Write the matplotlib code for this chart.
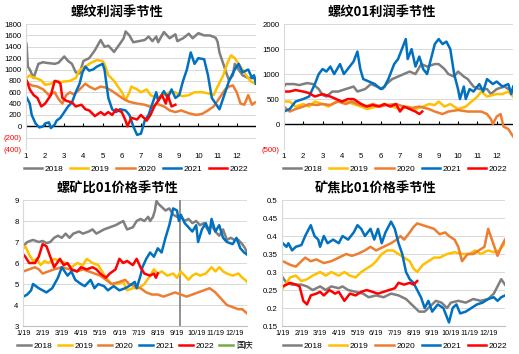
import matplotlib
matplotlib.use('Agg')
import matplotlib.pyplot as plt
from matplotlib.lines import Line2D
from matplotlib.ticker import FuncFormatter

plt.rcParams['font.family'] = ['Liberation Sans', 'Noto Sans CJK SC']

years = ['2018', '2019', '2020', '2021', '2022']
colors = ['#7F7F7F', '#FFC000', '#ED7D31', '#0070C0', '#FF0000']

# ---- panel 1: 螺纹利润季节性 (x = month) ----
p1_x18 = [1.0, 1.03, 1.1, 1.2, 1.4, 1.65, 1.9, 2.0, 2.5, 2.7, 3.0, 3.2, 3.4, 3.6, 3.8, 4.0, 4.3, 4.6, 4.9, 5.1,
          5.3, 5.6, 5.9, 6.1, 6.2, 6.4, 6.6, 6.9, 7.2, 7.4, 7.6, 7.8, 7.9, 8.2, 8.5, 8.8, 8.9, 9.2, 9.5, 9.7,
          10.0, 10.3, 10.6, 10.9, 11.0, 11.1, 11.3, 11.5, 11.6, 11.8, 11.9, 12.1, 12.3, 12.6, 12.95]
p1_y18 = [1480, 1450, 1050, 1000, 850, 1100, 1130, 1120, 1100, 1120, 1230, 1150, 1100, 950, 930, 1150, 1200, 1340, 1520, 1400,
          1420, 1310, 1450, 1550, 1670, 1600, 1480, 1500, 1520, 1580, 1500, 1580, 1480, 1660, 1550, 1620, 1500, 1550, 1630, 1550,
          1640, 1600, 1600, 1560, 1490, 1300, 1100, 900, 810, 900, 1100, 1000, 900, 850, 850]
p1_x19 = [1.0, 1.2, 1.3, 1.5, 1.8, 2.0, 2.3, 2.6, 2.8, 3.3, 3.6, 3.8, 4.1, 4.4, 4.7, 5.0, 5.1, 5.3, 5.6, 5.8,
          6.0, 6.2, 6.4, 6.5, 6.8, 7.0, 7.3, 7.5, 7.8, 8.2, 8.5, 8.8, 9.0, 9.2, 9.5, 9.8, 10.2, 10.5, 10.8, 11.0,
          11.3, 11.5, 11.7, 11.9, 12.1, 12.4, 12.7, 12.95]
p1_y19 = [840, 900, 870, 850, 810, 730, 750, 800, 780, 800, 850, 990, 1050, 1120, 1165, 1150, 1100, 900, 800, 700,
          605, 460, 600, 700, 650, 600, 650, 550, 500, 550, 600, 600, 550, 530, 550, 600, 600, 580, 550, 700,
          900, 1100, 1250, 1200, 1100, 950, 800, 750]
p1_x20 = [1.0, 1.3, 1.6, 1.9, 2.2, 2.5, 2.7, 2.9, 3.1, 3.3, 3.5, 3.8, 4.1, 4.3, 4.6, 4.9, 5.2, 5.5, 5.8, 6.1,
          6.4, 6.8, 7.2, 7.6, 7.8, 8.2, 8.5, 8.8, 9.1, 9.5, 9.9, 10.2, 10.5, 10.8, 11.0, 11.2, 11.4, 11.6, 11.8, 12.0,
          12.2, 12.4, 12.6, 12.8, 12.95]
p1_y20 = [780, 720, 700, 650, 550, 600, 480, 400, 550, 600, 560, 650, 750, 700, 650, 700, 680, 620, 550, 480,
          430, 400, 380, 330, 400, 350, 280, 250, 280, 230, 200, 220, 280, 350, 450, 550, 650, 700, 720, 600,
          400, 380, 550, 380, 420]
p1_x21 = [1.05, 1.2, 1.3, 1.5, 1.7, 1.9, 2.0, 2.2, 2.3, 2.5, 2.6, 2.8, 3.0, 3.2, 3.4, 3.6, 3.8, 3.95, 4.1, 4.3,
          4.5, 4.7, 5.0, 5.1, 5.3, 5.5, 5.7, 5.9, 6.2, 6.4, 6.6, 6.8, 7.0, 7.2, 7.4, 7.6, 7.8, 7.9, 8.2, 8.4,
          8.6, 8.8, 9.0, 9.2, 9.4, 9.6, 9.8, 10.0, 10.3, 10.5, 10.7, 10.9, 11.1, 11.3, 11.6, 11.9, 12.1, 12.3, 12.6, 12.8,
          12.9, 13.0]
p1_y21 = [500, 400, 200, 50, -20, 0, 50, 70, -30, 30, 100, 150, 250, 350, 420, 600, 750, 950, 1050, 980,
          1000, 1050, 1100, 1000, 500, 300, 250, 300, 280, 200, 0, -150, -130, 100, 200, 400, 600, 450, 620, 500,
          650, 500, 550, 800, 1000, 1300, 1100, 1200, 1180, 900, 500, 400, 300, 500, 800, 1000, 1100, 950, 1000, 850,
          900, 750]
p1_x22 = [1.05, 1.2, 1.4, 1.6, 1.8, 2.0, 2.3, 2.5, 2.7, 2.8, 2.9, 3.1, 3.4, 3.6, 3.9, 4.1, 4.3, 4.6, 4.9, 5.1,
          5.3, 5.5, 5.7, 6.0, 6.2, 6.3, 6.5, 6.8, 7.0, 7.3, 7.5, 7.7, 7.9, 8.1, 8.3, 8.4, 8.6, 8.8]
p1_y22 = [800, 650, 550, 500, 350, 400, 550, 800, 780, 750, 500, 450, 420, 350, 380, 300, 280, 180, 250, 200,
          250, 200, 300, 250, 100, 0, 150, 120, 200, 100, 200, 350, 450, 550, 400, 550, 350, 380]

# ---- panel 2: 螺纹01利润季节性 ----
p2_x18 = [1.0, 1.1, 1.5, 1.8, 2.2, 2.5, 2.8, 3.0, 3.2, 3.5, 3.8, 4.2, 4.6, 4.8, 5.2, 5.5, 5.8, 6.1, 6.3, 6.6,
          6.9, 7.2, 7.5, 7.8, 8.1, 8.4, 8.8, 9.0, 9.3, 9.5, 9.8, 10.0, 10.3, 10.5, 10.8, 11.1, 11.5, 11.7, 12.0, 12.4,
          12.6, 12.8]
p2_y18 = [750, 800, 800, 780, 820, 800, 700, 580, 550, 650, 650, 700, 750, 650, 700, 800, 750, 700, 800, 900,
          950, 1000, 1050, 1000, 1200, 1150, 1200, 1200, 1100, 1000, 950, 1050, 950, 900, 750, 700, 700, 600, 700, 750,
          700, 650]
p2_x19 = [1.0, 1.3, 1.6, 2.0, 2.3, 2.6, 3.0, 3.3, 3.7, 4.2, 4.6, 5.0, 5.3, 5.8, 6.2, 6.6, 7.0, 7.4, 7.8, 8.2,
          8.5, 8.8, 9.0, 9.3, 9.6, 10.0, 10.4, 10.7, 11.0, 11.2, 11.5, 12.0, 12.3, 12.6, 12.85]
p2_y19 = [450, 450, 350, 400, 350, 450, 400, 350, 450, 450, 400, 350, 300, 350, 400, 350, 300, 350, 300, 350,
          400, 380, 450, 350, 400, 300, 350, 450, 550, 650, 550, 600, 600, 650, 550]
p2_x20 = [1.0, 1.3, 1.6, 2.0, 2.3, 2.7, 3.0, 3.4, 3.8, 4.2, 4.5, 4.8, 5.2, 5.6, 6.0, 6.3, 6.8, 7.2, 7.6, 8.0,
          8.5, 8.8, 9.2, 9.5, 10.0, 10.5, 10.8, 11.2, 11.5, 11.7, 11.8, 12.0, 12.2, 12.35, 12.6, 12.85]
p2_y20 = [350, 250, 300, 350, 400, 380, 400, 380, 450, 400, 450, 400, 350, 400, 350, 380, 400, 350, 320, 350,
          300, 250, 200, 250, 280, 250, 250, 250, 200, 100, 0, 150, 200, -50, -100, -250]
p2_x21 = [1.0, 1.3, 1.6, 2.0, 2.3, 2.6, 2.8, 3.0, 3.2, 3.4, 3.6, 3.9, 4.1, 4.3, 4.6, 4.8, 4.95, 5.1, 5.4, 5.7,
          6.0, 6.2, 6.4, 6.7, 6.9, 7.1, 7.3, 7.4, 7.6, 7.8, 8.0, 8.2, 8.4, 8.6, 8.8, 9.0, 9.2, 9.4, 9.6, 9.8,
          10.0, 10.1, 10.3, 10.4, 10.6, 10.8, 11.1, 11.3, 11.5, 11.8, 12.0, 12.3, 12.6, 12.75, 12.85]
p2_y21 = [250, 300, 450, 500, 550, 800, 1000, 1100, 1050, 1150, 1000, 1200, 1000, 1100, 1250, 1450, 1100, 900, 850, 800,
          700, 750, 900, 1200, 1300, 1500, 1700, 1300, 1500, 1150, 1350, 1100, 1000, 1300, 1600, 1700, 1600, 1650, 1500, 1000,
          700, 500, 750, 500, 700, 650, 800, 650, 900, 800, 850, 750, 800, 600, 750]
p2_x22 = [1.0, 1.3, 1.6, 2.0, 2.3, 2.6, 3.0, 3.4, 3.7, 4.0, 4.3, 4.6, 4.8, 5.0, 5.3, 5.6, 5.9, 6.2, 6.5, 6.8,
          7.0, 7.2, 7.5, 7.8, 8.0, 8.15]
p2_y22 = [650, 650, 680, 650, 620, 550, 600, 550, 500, 450, 500, 500, 450, 400, 350, 380, 350, 400, 350, 400,
          250, 350, 300, 250, 200, 250]

# ---- panel 3: 螺矿比01价格季节性 (x = label index, 0 = 1/19) ----
p3_x18 = [0, 0.2, 0.5, 0.8, 1.0, 1.2, 1.4, 1.6, 1.8, 2.0, 2.2, 2.4, 2.6, 2.9, 3.1, 3.4, 3.6, 3.8, 4.0, 4.2,
          4.5, 4.8, 5.0, 5.2, 5.4, 5.7, 5.9, 6.1, 6.3, 6.5, 6.6, 6.75, 6.85, 6.93, 7.05, 7.4, 7.6, 7.8, 8.0, 8.2,
          8.4, 8.6, 8.8, 9.0, 9.2, 9.4, 9.6, 9.8, 10.0, 10.2, 10.4, 10.6, 10.8, 11.0, 11.2, 11.4, 11.55, 11.65]
p3_y18 = [6.8, 7.0, 7.1, 7.0, 7.05, 6.95, 7.0, 7.2, 7.3, 7.2, 7.4, 7.2, 7.4, 7.5, 7.4, 7.5, 7.6, 7.4, 7.5, 7.6,
          7.7, 7.8, 7.9, 8.0, 7.6, 7.7, 8.0, 8.1, 8.0, 8.2, 8.0, 8.2, 8.5, 8.95, 8.8, 8.5, 8.6, 8.3, 8.2, 8.2,
          8.0, 8.1, 7.9, 8.0, 7.8, 7.9, 7.6, 7.8, 7.5, 7.3, 7.6, 7.1, 7.2, 7.1, 7.1, 6.9, 6.7, 6.5]
p3_x19 = [0, 0.1, 0.3, 0.5, 0.7, 0.9, 1.1, 1.3, 1.6, 1.9, 2.2, 2.5, 2.8, 3.1, 3.3, 3.6, 3.9, 4.1, 4.3, 4.6,
          4.9, 5.2, 5.4, 5.7, 6.0, 6.3, 6.6, 6.8, 7.0, 7.2, 7.5, 7.8, 8.0, 8.2, 8.4, 8.6, 8.8, 9.0, 9.2, 9.5,
          9.8, 10.0, 10.2, 10.4, 10.6, 10.9, 11.2, 11.4, 11.55, 11.65]
p3_y19 = [6.7, 6.8, 6.4, 6.1, 6.2, 5.9, 6.1, 6.0, 6.2, 6.1, 6.0, 5.8, 6.0, 5.9, 6.2, 6.0, 5.9, 5.6, 5.3, 5.0,
          5.0, 5.1, 4.7, 4.8, 4.8, 5.0, 5.4, 5.7, 5.5, 5.6, 5.4, 5.5, 5.3, 5.6, 5.4, 5.2, 5.4, 5.5, 5.4, 5.5,
          5.8, 5.6, 5.8, 5.6, 5.5, 5.4, 5.5, 5.3, 5.2, 5.1]
p3_x20 = [0, 0.3, 0.6, 0.8, 1.0, 1.3, 1.6, 2.0, 2.4, 2.8, 3.1, 3.4, 3.7, 4.0, 4.3, 4.6, 5.0, 5.3, 5.5, 5.8,
          6.1, 6.4, 6.7, 7.0, 7.3, 7.6, 7.9, 8.2, 8.5, 8.8, 9.1, 9.4, 9.7, 10.0, 10.3, 10.6, 10.9, 11.2, 11.4, 11.65]
p3_y20 = [5.6, 5.7, 5.8, 5.7, 5.5, 5.6, 5.7, 5.8, 5.7, 5.6, 5.7, 5.6, 5.5, 5.4, 5.2, 5.0, 5.1, 5.2, 5.0, 4.9,
          4.8, 4.6, 4.5, 4.5, 4.4, 4.5, 4.6, 4.5, 4.4, 4.5, 4.6, 4.7, 4.8, 4.6, 4.3, 4.0, 3.9, 3.8, 3.8, 3.6]
p3_x21 = [0, 0.2, 0.4, 0.5, 0.8, 1.0, 1.2, 1.5, 1.8, 2.0, 2.3, 2.5, 2.7, 3.0, 3.2, 3.5, 3.7, 3.9, 4.2, 4.4,
          4.7, 5.0, 5.3, 5.5, 5.8, 5.9, 6.1, 6.2, 6.4, 6.6, 6.8, 7.0, 7.2, 7.4, 7.6, 7.8, 8.0, 8.1, 8.2, 8.4,
          8.6, 8.8, 9.0, 9.1, 9.3, 9.5, 9.7, 9.8, 10.0, 10.2, 10.4, 10.6, 10.9, 11.1, 11.3, 11.5, 11.65]
p3_y21 = [4.4, 4.5, 4.7, 5.0, 4.8, 4.7, 4.6, 4.8, 5.3, 5.8, 5.4, 5.6, 5.2, 5.0, 4.9, 5.2, 4.8, 5.0, 4.9, 4.7,
          4.9, 4.7, 4.8, 4.9, 5.1, 4.8, 5.4, 5.8, 6.2, 6.5, 6.3, 6.7, 6.5, 7.2, 7.8, 8.6, 8.5, 8.0, 8.3, 7.9,
          7.7, 7.5, 7.8, 7.0, 7.6, 7.9, 7.4, 8.1, 7.5, 7.8, 7.2, 7.0, 6.9, 7.2, 6.7, 6.5, 6.4]
p3_x22 = [0, 0.1, 0.3, 0.6, 0.8, 1.0, 1.2, 1.4, 1.6, 1.9, 2.1, 2.3, 2.5, 2.8, 3.0, 3.3, 3.6, 3.8, 4.0, 4.3,
          4.5, 4.8, 5.0, 5.2, 5.4, 5.7, 5.9, 6.1, 6.3, 6.6, 6.8, 6.9, 7.0]
p3_y22 = [6.4, 6.3, 6.0, 6.0, 6.3, 6.9, 6.8, 6.3, 5.8, 6.2, 5.9, 6.0, 5.7, 5.6, 5.8, 5.7, 5.8, 5.7, 5.5, 5.3,
          5.5, 5.7, 6.2, 6.0, 6.1, 5.9, 6.2, 5.8, 5.5, 5.4, 5.5, 5.3, 5.5]
guoqing_x = 8.18

# ---- panel 4: 矿焦比01价格季节性 ----
p4_x18 = [0, 0.2, 0.5, 1.0, 1.3, 1.6, 2.0, 2.3, 2.6, 3.0, 3.2, 3.5, 3.9, 4.3, 4.6, 5.0, 5.4, 5.8, 6.2, 6.6,
          6.9, 7.1, 7.3, 7.6, 7.8, 8.0, 8.2, 8.5, 8.8, 9.0, 9.4, 9.8, 10.2, 10.6, 11.0, 11.3, 11.5, 11.7, 11.9]
p4_y18 = [0.285, 0.27, 0.265, 0.265, 0.26, 0.25, 0.26, 0.25, 0.26, 0.255, 0.26, 0.25, 0.245, 0.24, 0.23, 0.235, 0.23, 0.24, 0.235, 0.225,
          0.21, 0.2, 0.19, 0.19, 0.2, 0.21, 0.22, 0.215, 0.2, 0.215, 0.22, 0.215, 0.225, 0.22, 0.225, 0.24, 0.26, 0.28, 0.265]
p4_x19 = [0, 0.2, 0.4, 0.7, 1.0, 1.3, 1.6, 2.0, 2.3, 2.6, 3.0, 3.3, 3.6, 3.9, 4.2, 4.5, 4.8, 5.0, 5.3, 5.6,
          5.9, 6.2, 6.5, 6.8, 7.0, 7.2, 7.5, 7.8, 8.1, 8.4, 8.8, 9.2, 9.6, 10.0, 10.3, 10.6, 11.0, 11.3, 11.6, 11.9]
p4_y19 = [0.255, 0.27, 0.285, 0.29, 0.275, 0.28, 0.29, 0.3, 0.29, 0.3, 0.29, 0.3, 0.29, 0.285, 0.3, 0.31, 0.32, 0.33, 0.35, 0.36,
          0.36, 0.35, 0.34, 0.33, 0.31, 0.3, 0.32, 0.33, 0.34, 0.34, 0.35, 0.355, 0.35, 0.35, 0.36, 0.35, 0.36, 0.355, 0.36, 0.38]
p4_x20 = [0, 0.4, 0.7, 1.0, 1.2, 1.5, 1.8, 2.2, 2.6, 3.0, 3.4, 3.7, 4.0, 4.4, 4.7, 5.0, 5.4, 5.8, 6.1, 6.3,
          6.5, 6.8, 7.0, 7.2, 7.5, 7.8, 8.1, 8.4, 8.7, 8.9, 9.2, 9.4, 9.6, 9.9, 10.2, 10.5, 10.8, 11.0, 11.2, 11.4,
          11.5, 11.7, 11.9]
p4_y20 = [0.33, 0.32, 0.315, 0.33, 0.34, 0.33, 0.335, 0.325, 0.33, 0.34, 0.35, 0.345, 0.35, 0.36, 0.37, 0.36, 0.37, 0.38, 0.39, 0.4,
          0.39, 0.41, 0.425, 0.435, 0.43, 0.425, 0.42, 0.405, 0.41, 0.4, 0.39, 0.37, 0.33, 0.35, 0.35, 0.36, 0.37, 0.42, 0.39, 0.36,
          0.345, 0.37, 0.39]
p4_x21 = [0, 0.2, 0.3, 0.5, 0.7, 1.0, 1.2, 1.5, 1.7, 1.9, 2.0, 2.2, 2.4, 2.7, 3.0, 3.2, 3.5, 3.8, 4.0, 4.2,
          4.4, 4.7, 4.9, 5.1, 5.3, 5.5, 5.7, 5.8, 6.0, 6.2, 6.4, 6.6, 6.8, 7.0, 7.2, 7.4, 7.6, 7.8, 8.0, 8.3,
          8.6, 8.9, 9.1, 9.3, 9.5, 9.8, 10.1, 10.4, 10.7, 11.0, 11.3, 11.5, 11.7, 11.9]
p4_y21 = [0.38, 0.37, 0.38, 0.36, 0.37, 0.375, 0.4, 0.43, 0.4, 0.39, 0.37, 0.4, 0.38, 0.39, 0.38, 0.4, 0.39, 0.41, 0.43, 0.42,
          0.4, 0.42, 0.39, 0.42, 0.38, 0.41, 0.43, 0.44, 0.42, 0.38, 0.35, 0.3, 0.28, 0.27, 0.25, 0.23, 0.2, 0.22, 0.19, 0.21,
          0.2, 0.16, 0.2, 0.21, 0.185, 0.19, 0.2, 0.21, 0.215, 0.225, 0.23, 0.22, 0.23, 0.235]
p4_x22 = [0, 0.2, 0.4, 0.7, 0.9, 1.1, 1.3, 1.5, 1.8, 2.0, 2.2, 2.5, 2.8, 3.0, 3.3, 3.6, 3.9, 4.2, 4.5, 4.8,
          5.1, 5.4, 5.7, 6.0, 6.2, 6.5, 6.8, 7.0, 7.2]
p4_y22 = [0.26, 0.265, 0.27, 0.265, 0.26, 0.22, 0.21, 0.235, 0.24, 0.245, 0.235, 0.25, 0.24, 0.245, 0.22, 0.24, 0.235, 0.245, 0.25, 0.245,
          0.24, 0.245, 0.25, 0.255, 0.27, 0.265, 0.27, 0.265, 0.275]

month_ticks = list(range(1, 13))
month_labels = [str(m) for m in month_ticks]
date_ticks = list(range(12))
date_labels = ['%d/19' % (m + 1) for m in date_ticks]


def money_fmt(v, pos):
    return '(%d)' % abs(v) if v < 0 else '%d' % v


def ratio_fmt(v, pos):
    return '%g' % round(v, 2)


def setup(ax, ylim, yticks, fmt):
    ax.set_ylim(ylim)
    ax.set_yticks(yticks)
    ax.yaxis.set_major_formatter(FuncFormatter(fmt))
    ax.grid(axis='y', color='#D9D9D9', linewidth=0.7)
    ax.set_axisbelow(True)
    for s in ['top', 'right', 'bottom']:
        ax.spines[s].set_visible(False)
    ax.spines['left'].set_color('#D9D9D9')
    ax.tick_params(length=0, labelsize=5.6, pad=3)
    for t, lbl in zip(yticks, ax.get_yticklabels()):
        if t < 0:
            lbl.set_color('#FF0000')


def draw(ax, xs, ys):
    handles = []
    for x, y, c, lab in zip(xs, ys, colors, years):
        h, = ax.plot(x, y, color=c, lw=1.8, label=lab)
        handles.append(h)
    return handles


fig = plt.figure(figsize=(5.19, 3.54), dpi=100)
ax1 = fig.add_axes([0.050, 0.579, 0.443, 0.353])
ax2 = fig.add_axes([0.547, 0.579, 0.441, 0.353])
ax3 = fig.add_axes([0.044, 0.079, 0.432, 0.356])
ax4 = fig.add_axes([0.543, 0.079, 0.430, 0.356])

h1 = draw(ax1, [p1_x18, p1_x19, p1_x20, p1_x21, p1_x22], [p1_y18, p1_y19, p1_y20, p1_y21, p1_y22])
h2 = draw(ax2, [p2_x18, p2_x19, p2_x20, p2_x21, p2_x22], [p2_y18, p2_y19, p2_y20, p2_y21, p2_y22])
ax3.axvline(guoqing_x, color='#7F7F7F', lw=1.2, zorder=1)
h3 = draw(ax3, [p3_x18, p3_x19, p3_x20, p3_x21, p3_x22], [p3_y18, p3_y19, p3_y20, p3_y21, p3_y22])
h4 = draw(ax4, [p4_x18, p4_x19, p4_x20, p4_x21, p4_x22], [p4_y18, p4_y19, p4_y20, p4_y21, p4_y22])

# top panels: zero line with small month ticks
for ax in (ax1, ax2):
    ax.axhline(0, color='black', lw=1.0, zorder=1.5)
    ax.plot(month_ticks, [0] * len(month_ticks), ls='none', marker=2, ms=2.5,
            mew=0.8, color='black', zorder=1.5)
    ax.set_xticks(month_ticks)
    ax.set_xticklabels(month_labels)

ax1.set_xlim(1, 13)
ax2.set_xlim(1, 12.83)
setup(ax1, (-400, 1800), list(range(-400, 1801, 200)), money_fmt)
setup(ax2, (-500, 2000), list(range(-500, 2001, 500)), money_fmt)

for ax in (ax3, ax4):
    ax.set_xticks(date_ticks)
    ax.set_xticklabels(date_labels)
ax3.set_xlim(-0.03, 11.65)
ax4.set_xlim(-0.05, 11.9)
setup(ax3, (3, 9), list(range(3, 10)), ratio_fmt)
setup(ax4, (0.15, 0.5), [0.15, 0.2, 0.25, 0.3, 0.35, 0.4, 0.45, 0.5], ratio_fmt)
for ax in (ax3, ax4):
    ax.spines['bottom'].set_visible(True)
    ax.spines['bottom'].set_color('#BFBFBF')
    ax.tick_params(axis='x', labelsize=5.2)

title_kw = dict(ha='center', va='center', fontsize=9.5, fontweight='bold', family='Noto Sans CJK SC')
fig.text(117 / 519, 1 - 12 / 354, '螺纹利润季节性', **title_kw)
fig.text(382 / 519, 1 - 12 / 354, '螺纹01利润季节性', **title_kw)
fig.text(117 / 519, 1 - 189 / 354, '螺矿比01价格季节性', **title_kw)
fig.text(376 / 519, 1 - 189 / 354, '矿焦比01价格季节性', **title_kw)

leg_kw = dict(loc='center', frameon=False, fontsize=6.0, ncol=6, handlelength=2.2,
              handletextpad=0.3, columnspacing=0.8, borderaxespad=0)
fig.legend(handles=h1, bbox_to_anchor=(136 / 519, 1 - 169 / 354), **leg_kw)
fig.legend(handles=h2, bbox_to_anchor=(395 / 519, 1 - 169 / 354), **leg_kw)
gq = Line2D([], [], color='#70AD47', lw=1.8, label='国庆')
fig.legend(handles=h3 + [gq], bbox_to_anchor=(135 / 519, 1 - 346 / 354),
           **dict(leg_kw, handlelength=1.7, columnspacing=0.6))
fig.legend(handles=h4, bbox_to_anchor=(395 / 519, 1 - 346 / 354), **leg_kw)

fig.savefig('out.png', dpi=100)
plt.close(fig)
